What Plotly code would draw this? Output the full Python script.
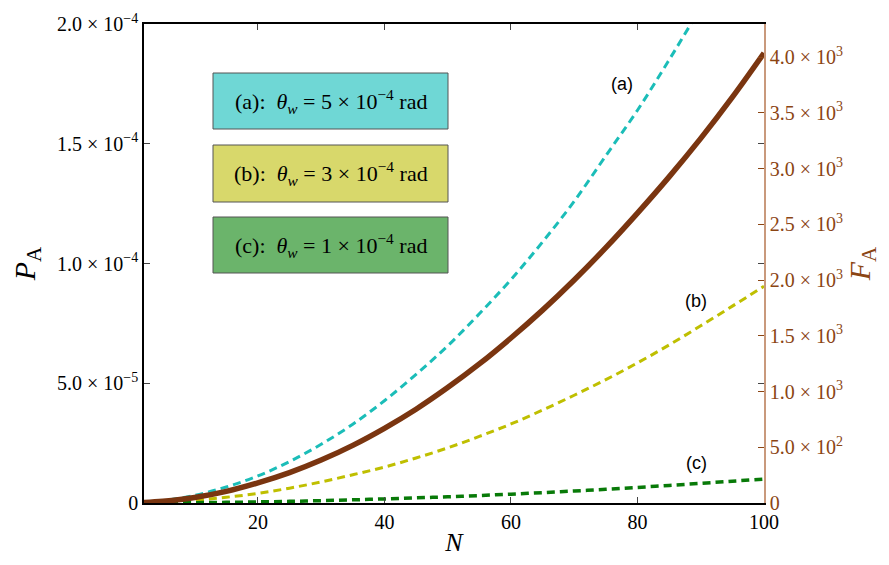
import plotly.graph_objects as go

# ---- data ----
N_vals = [2, 5, 10, 15, 20, 25, 30, 35, 40, 45, 50, 55, 60, 65, 70, 75, 80, 85, 90, 95, 100]
P_a = [2.5e-7, 9.8e-7, 3.2e-6, 6.7e-6, 1.13e-5, 1.73e-5, 2.45e-5, 3.29e-5, 4.27e-5, 5.37e-5, 6.56e-5,
       7.90e-5, 9.33e-5, 1.09e-4, 1.26e-4, 1.45e-4, 1.64e-4, 1.85e-4, 2.07e-4, 2.30e-4, 2.55e-4]
P_b = [9.0e-8, 3.5e-7, 1.15e-6, 2.4e-6, 4.0e-6, 6.2e-6, 8.8e-6, 1.18e-5, 1.50e-5, 1.88e-5, 2.30e-5,
       2.78e-5, 3.30e-5, 3.88e-5, 4.50e-5, 5.15e-5, 5.85e-5, 6.60e-5, 7.40e-5, 8.22e-5, 9.05e-5]
P_c = [1.0e-8, 4.0e-8, 1.3e-7, 2.7e-7, 4.5e-7, 6.9e-7, 9.8e-7, 1.32e-6, 1.70e-6, 2.13e-6, 2.60e-6,
       3.12e-6, 3.70e-6, 4.32e-6, 5.00e-6, 5.73e-6, 6.50e-6, 7.33e-6, 8.20e-6, 9.10e-6, 1.00e-5]
F_A = [4, 15, 49, 104, 180, 272, 385, 517, 670, 841, 1035, 1247, 1480, 1730, 2000, 2290, 2600,
       2925, 3270, 3640, 4036]

x_ticks = [20, 40, 60, 80, 100]
y_ticks = [0, 5e-5, 1e-4, 1.5e-4, 2e-4]
y_ticktext = ["0", "5.0 × 10<sup>−5</sup>", "1.0 × 10<sup>−4</sup>",
              "1.5 × 10<sup>−4</sup>", "2.0 × 10<sup>−4</sup>"]
y2_ticks = [0, 500, 1000, 1500, 2000, 2500, 3000, 3500, 4000]
y2_ticktext = ["0", "5.0 × 10<sup>2</sup>", "1.0 × 10<sup>3</sup>", "1.5 × 10<sup>3</sup>",
               "2.0 × 10<sup>3</sup>", "2.5 × 10<sup>3</sup>", "3.0 × 10<sup>3</sup>",
               "3.5 × 10<sup>3</sup>", "4.0 × 10<sup>3</sup>"]

box_labels = ["(a):  <i>θ</i><sub><i>w</i></sub> = 5 × 10<sup>−4</sup> rad",
              "(b):  <i>θ</i><sub><i>w</i></sub> = 3 × 10<sup>−4</sup> rad",
              "(c):  <i>θ</i><sub><i>w</i></sub> = 1 × 10<sup>−4</sup> rad"]
box_colors = ["#6fd7d5", "#d8d86b", "#6bb46b"]

C_CYAN = "#1bbdb8"
C_YEL = "#bfbf00"
C_GRN = "#087a08"
C_BROWN = "#7a3510"
C_BROWN_TXT = "#8b4513"

SERIF = "Liberation Serif"

fig = go.Figure()
fig.add_trace(go.Scatter(x=N_vals, y=P_a, mode="lines", line=dict(color=C_CYAN, width=3, dash="8px,5px", shape="spline"),
                         showlegend=False))
fig.add_trace(go.Scatter(x=N_vals, y=P_b, mode="lines", line=dict(color=C_YEL, width=3, dash="8px,5px", shape="spline"),
                         showlegend=False))
fig.add_trace(go.Scatter(x=N_vals, y=P_c, mode="lines", line=dict(color=C_GRN, width=3.5, dash="8px,5px", shape="spline"),
                         showlegend=False))
fig.add_trace(go.Scatter(x=N_vals, y=F_A, mode="lines", yaxis="y2",
                         line=dict(color=C_BROWN, width=5.5, shape="spline"), showlegend=False))

# page offset (browser body margin) and plot area in page pixels: x 144..764, y 24..503
OFF = 8
W, H = 889 - 2 * OFF, 565 - 2 * OFF
L, R, T, B = 144 - OFF, 764 - OFF, 24 - OFF, 503 - OFF


def px(x):  # page pixel -> paper fraction
    return (x - OFF - L) / (R - L)


def py(y):
    return (B - (y - OFF)) / (B - T)


shapes = []
annotations = []
box_y = [(73, 129), (145, 202), (217, 273)]
for (y0, y1), col, lab in zip(box_y, box_colors, box_labels):
    shapes.append(dict(type="rect", xref="paper", yref="paper", x0=px(213), x1=px(448),
                       y0=py(y1), y1=py(y0), fillcolor=col, line=dict(color="#555555", width=1)))
    annotations.append(dict(xref="paper", yref="paper", x=px(330.5), y=py((y0 + y1) / 2), text=lab,
                            showarrow=False, font=dict(family=SERIF, size=22, color="black"),
                            xanchor="center", yanchor="middle"))

for lab, (cx, cy) in zip(["(a)", "(b)", "(c)"], [(622, 84), (696, 301), (696, 463)]):
    annotations.append(dict(xref="paper", yref="paper", x=px(cx), y=py(cy), text=lab, showarrow=False,
                            font=dict(family="Liberation Sans", size=18, color="black"),
                            xanchor="center", yanchor="middle"))

fig.update_layout(
    width=W, height=H,
    margin=dict(l=L, r=W - R, t=T, b=H - B, autoexpand=False),
    paper_bgcolor="white", plot_bgcolor="white",
    font=dict(family=SERIF, size=20, color="black"),
    xaxis=dict(range=[2, 100], tickvals=x_ticks, ticks="inside", ticklen=6, tickwidth=1,
               showline=True, linecolor="black", linewidth=1.5, mirror="ticks", showgrid=False,
               zeroline=False, tickfont=dict(family=SERIF, size=20),
               title=dict(text="<i>N</i>", font=dict(family=SERIF, size=26), standoff=6)),
    yaxis=dict(range=[0, 2e-4], tickvals=y_ticks, ticktext=y_ticktext, ticks="inside", ticklen=6,
               tickwidth=1, showline=True, linecolor="black", linewidth=1.5, mirror="ticks",
               showgrid=False, zeroline=False, tickfont=dict(family=SERIF, size=20),
               title=dict(text="<i>P</i><sub>A</sub>", font=dict(family=SERIF, size=30), standoff=22)),
    yaxis2=dict(range=[0, 4296], overlaying="y", side="right", tickvals=y2_ticks, ticktext=y2_ticktext,
                ticks="inside", ticklen=6, tickwidth=1, tickcolor=C_BROWN_TXT, showline=True,
                linecolor="#c9997c", linewidth=1.5, showgrid=False, zeroline=False,
                tickfont=dict(family=SERIF, size=20, color=C_BROWN_TXT),
                title=dict(text="<i>F</i><sub>A</sub>", font=dict(family=SERIF, size=30, color=C_BROWN_TXT),
                           standoff=12)),
    shapes=shapes,
    annotations=annotations,
)

fig.write_html("out.html")
